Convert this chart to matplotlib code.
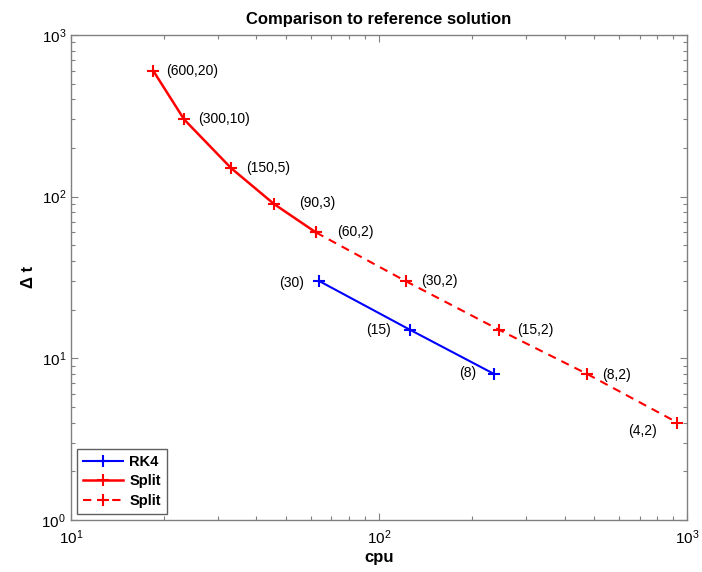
import matplotlib
matplotlib.use("Agg")
import matplotlib.pyplot as plt
from matplotlib.ticker import LogLocator, LogFormatterMathtext, NullFormatter

plt.rcParams['font.family'] = ['Liberation Sans', 'DejaVu Sans']
plt.rcParams['mathtext.fontset'] = 'custom'
plt.rcParams['mathtext.rm'] = 'Liberation Sans:bold'
plt.rcParams['mathtext.it'] = 'Liberation Sans:bold'
plt.rcParams['mathtext.bf'] = 'Liberation Sans:bold'

# Data
rk4_cpu = [64, 126, 236]
rk4_dt = [30, 15, 8]
rk4_labels = ["(30)", "(15)", "(8)"]

split_solid_cpu = [18.5, 23.3, 33.1, 45.6, 62.4]
split_solid_dt = [600, 300, 150, 90, 60]
split_solid_labels = ["(600,20)", "(300,10)", "(150,5)", "(90,3)", "(60,2)"]

split_dash_cpu = [62.4, 122, 245, 473, 929]
split_dash_dt = [60, 30, 15, 8, 4]
split_dash_labels = ["(30,2)", "(15,2)", "(8,2)", "(4,2)"]

fig = plt.figure(figsize=(7.02, 5.72), dpi=100)
ax = fig.add_axes([0.101, 0.091, 0.878, 0.848])

ax.loglog(rk4_cpu, rk4_dt, color='#0000ff', lw=1.5, marker='+', ms=8, mew=1.5, label='RK4')
ax.loglog(split_solid_cpu, split_solid_dt, color='#ff0000', lw=1.8, marker='+', ms=8, mew=1.5, label='Split')
ax.loglog(split_dash_cpu, split_dash_dt, color='#ff0000', lw=1.5, ls='--', dashes=(4, 3), marker='+', ms=8, mew=1.5, label='Split')

ax.set_xlim(10, 1000)
ax.set_ylim(1, 1000)

fs = 10
offs_solid = [(9, 0), (10, 0), (11, 0), (18, 1), (15, 0)]
for x, y, t, o in zip(split_solid_cpu, split_solid_dt, split_solid_labels, offs_solid):
    ax.annotate(t, (x, y), xytext=o, textcoords='offset points', fontsize=fs, va='center', ha='left')
offs_dash = [(11, 0), (13, 0), (11, -1), (-15, -6)]
has = ['left', 'left', 'left', 'right']
for x, y, t, o, h in zip(split_dash_cpu[1:], split_dash_dt[1:], split_dash_labels, offs_dash, has):
    ax.annotate(t, (x, y), xytext=o, textcoords='offset points', fontsize=fs, va='center', ha=h)
offs_rk = [(-11, -1), (-14, 0), (-13, 1)]
for x, y, t, o in zip(rk4_cpu, rk4_dt, rk4_labels, offs_rk):
    ax.annotate(t, (x, y), xytext=o, textcoords='offset points', fontsize=fs, va='center', ha='right')

for axis in (ax.xaxis, ax.yaxis):
    axis.set_major_locator(LogLocator(base=10, numticks=10))
    axis.set_major_formatter(LogFormatterMathtext())
    axis.set_minor_locator(LogLocator(base=10, subs=range(2, 10), numticks=20))
    axis.set_minor_formatter(NullFormatter())

ax.tick_params(which='both', direction='in', top=True, right=True, colors='#808080', labelcolor='black', labelsize=11)
ax.tick_params(which='major', length=5, width=0.8)
ax.tick_params(which='minor', length=3, width=0.8)
ax.tick_params(axis='x', which='major', pad=6)
for s in ax.spines.values():
    s.set_color('#808080')
    s.set_linewidth(1.0)

ax.set_title('Comparison to reference solution', fontsize=12, fontweight='bold', pad=8)
ax.set_xlabel('cpu', fontsize=12, fontweight='bold', labelpad=2)
ax.set_ylabel('Δ t', fontsize=12, fontweight='bold', labelpad=4)

leg = ax.legend(loc='lower left', prop={'weight': 'bold', 'size': 10.5}, fancybox=False,
                edgecolor='#606060', framealpha=1, handlelength=2.8, borderpad=0.4,
                labelspacing=0.4, handletextpad=0.4, borderaxespad=0.4)
leg.get_frame().set_linewidth(1.0)

fig.savefig('out.png', dpi=100)
